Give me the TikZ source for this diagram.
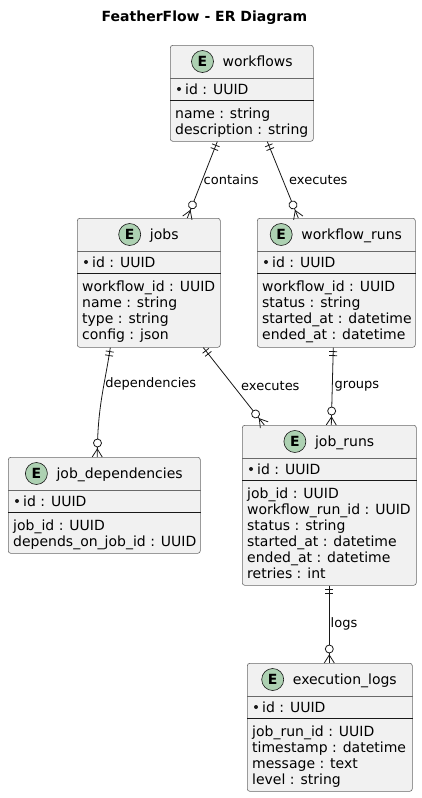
\documentclass[tikz,border=0pt]{standalone}
\usepackage{fontspec}
\setmainfont{DejaVu Sans}
\usetikzlibrary{calc,decorations.markings}

\definecolor{entfill}{HTML}{F1F1F1}
\definecolor{entline}{HTML}{181818}
\definecolor{spotfill}{HTML}{ADD1B2}

\begin{document}
\begin{tikzpicture}[x=1pt,y=-1pt]
\tikzset{
  entbox/.style={draw=entline!65,fill=entfill,line width=0.6pt,rounded corners=2.5pt,anchor=north west,inner sep=0pt},
  spot/.style={circle,draw=entline,fill=spotfill,line width=0.6pt,minimum size=22pt,inner sep=0pt,font=\bfseries\fontsize{14}{16}\selectfont},
  entname/.style={font=\fontsize{14}{16}\selectfont,inner sep=0pt,anchor=base west},
  attr/.style={font=\fontsize{14}{16}\selectfont,inner sep=0pt,align=left,anchor=base west},
  headline/.style={draw=entline!65,line width=0.6pt},
  keyline/.style={draw=entline,line width=0.9pt},
  relname/.style={font=\fontsize{13}{15}\selectfont,inner sep=1pt},
  erlink/.style={draw=entline,line width=0.8pt,postaction={decorate},decoration={markings,
    mark=at position 4pt with {\draw[entline,line width=0.8pt] (0,-4pt) -- (0,4pt);},
    mark=at position 8pt with {\draw[entline,line width=0.8pt] (0,-4pt) -- (0,4pt);},
    mark=at position -14pt with {\draw[entline,line width=0.8pt,fill=white] (0,0) circle (4pt);},
    mark=at position -8pt with {\draw[entline,line width=0.8pt] (0,0) -- (8pt,5pt) (0,0) -- (8pt,-5pt);}}}
}
\useasboundingbox (0,0) rectangle (422,798);
\node[font=\bfseries\fontsize{14}{16}\selectfont] (title) at (204.5,18) {FeatherFlow - ER Diagram};
% workflows
\node[entbox,minimum width=143pt,minimum height=96pt] (e_wf) at (170,45) {};
\node[spot] (s_wf) at (202.5,61.5) {E};
\node[entname] (n_wf) at (222.5,66.5) {workflows};
\draw[headline] ($(e_wf.north west)+(0,33)$) -- ($(e_wf.north east)+(0,33)$);
\draw[keyline] ($(e_wf.north west)+(0,55)$) -- ($(e_wf.north east)+(0,55)$);
\fill[entline] (179,89) circle (2pt);
\node[attr] (k_wf) at (185,94) {id : UUID};
\node[attr] (a_wf) at (175,134) {name : string\\description : string};
% jobs
\node[entbox,minimum width=143pt,minimum height=129pt] (e_jobs) at (77,218) {};
\node[spot] (s_jobs) at (129.7,234.5) {E};
\node[entname] (n_jobs) at (149.7,239.5) {jobs};
\draw[headline] ($(e_jobs.north west)+(0,33)$) -- ($(e_jobs.north east)+(0,33)$);
\draw[keyline] ($(e_jobs.north west)+(0,55)$) -- ($(e_jobs.north east)+(0,55)$);
\fill[entline] (86,262) circle (2pt);
\node[attr] (k_jobs) at (92,267) {id : UUID};
\node[attr] (a_jobs) at (82,339) {workflow\_id : UUID\\name : string\\type : string\\config : json};
% workflow_runs
\node[entbox,minimum width=158pt,minimum height=129pt] (e_wr) at (257,218) {};
\node[spot] (s_wr) at (281.2,234.5) {E};
\node[entname] (n_wr) at (301.2,239.5) {workflow\_runs};
\draw[headline] ($(e_wr.north west)+(0,33)$) -- ($(e_wr.north east)+(0,33)$);
\draw[keyline] ($(e_wr.north west)+(0,55)$) -- ($(e_wr.north east)+(0,55)$);
\fill[entline] (266,262) circle (2pt);
\node[attr] (k_wr) at (272,267) {id : UUID};
\node[attr] (a_wr) at (262,339) {workflow\_id : UUID\\status : string\\started\_at : datetime\\ended\_at : datetime};
% job_dependencies
\node[entbox,minimum width=192pt,minimum height=96pt] (e_jd) at (8,457) {};
\node[spot] (s_jd) at (36.4,473.5) {E};
\node[entname] (n_jd) at (56.4,478.5) {job\_dependencies};
\draw[headline] ($(e_jd.north west)+(0,33)$) -- ($(e_jd.north east)+(0,33)$);
\draw[keyline] ($(e_jd.north west)+(0,55)$) -- ($(e_jd.north east)+(0,55)$);
\fill[entline] (17,501) circle (2pt);
\node[attr] (k_jd) at (23,506) {id : UUID};
\node[attr] (a_jd) at (13,546) {job\_id : UUID\\depends\_on\_job\_id : UUID};
% job_runs
\node[entbox,minimum width=174pt,minimum height=160pt] (e_jr) at (242,425) {};
\node[spot] (s_jr) at (294.9,441.5) {E};
\node[entname] (n_jr) at (314.9,446.5) {job\_runs};
\draw[headline] ($(e_jr.north west)+(0,33)$) -- ($(e_jr.north east)+(0,33)$);
\draw[keyline] ($(e_jr.north west)+(0,55)$) -- ($(e_jr.north east)+(0,55)$);
\fill[entline] (251,469) circle (2pt);
\node[attr] (k_jr) at (257,474) {id : UUID};
\node[attr] (a_jr) at (247,578) {job\_id : UUID\\workflow\_run\_id : UUID\\status : string\\started\_at : datetime\\ended\_at : datetime\\retries : int};
% execution_logs
\node[entbox,minimum width=165pt,minimum height=128pt] (e_el) at (247,663) {};
\node[spot] (s_el) at (272.7,679.5) {E};
\node[entname] (n_el) at (292.7,684.5) {execution\_logs};
\draw[headline] ($(e_el.north west)+(0,33)$) -- ($(e_el.north east)+(0,33)$);
\draw[keyline] ($(e_el.north west)+(0,55)$) -- ($(e_el.north east)+(0,55)$);
\fill[entline] (256,707) circle (2pt);
\node[attr] (k_el) at (262,712) {id : UUID};
\node[attr] (a_el) at (252,784) {job\_run\_id : UUID\\timestamp : datetime\\message : text\\level : string};
% relations
\draw[erlink] ([xshift=-24.5pt]e_wf.south) -- node[relname,right] {contains} ([xshift=38.5pt]e_jobs.north);
\draw[erlink] ([xshift=25.5pt]e_wf.south) -- node[relname,right,xshift=5pt] {executes} ([xshift=-38pt]e_wr.north);
\draw[erlink] ([xshift=-38.5pt]e_jobs.south) .. controls +(-6,40) and +(0,-50) .. ([xshift=-7pt]e_jd.north) node[relname,right,pos=0.35] {dependencies};
\draw[erlink] ([xshift=54.5pt]e_jobs.south) -- node[relname,right,xshift=6pt] {executes} ([xshift=-65pt]e_jr.north);
\draw[erlink] ([xshift=-3pt]e_wr.south) -- node[relname,right,xshift=1pt] {groups} ([xshift=2pt]e_jr.north);
\draw[erlink] (e_jr.south) -- node[relname,right] {logs} ([xshift=-0.5pt]e_el.north);
\end{tikzpicture}
\end{document}
